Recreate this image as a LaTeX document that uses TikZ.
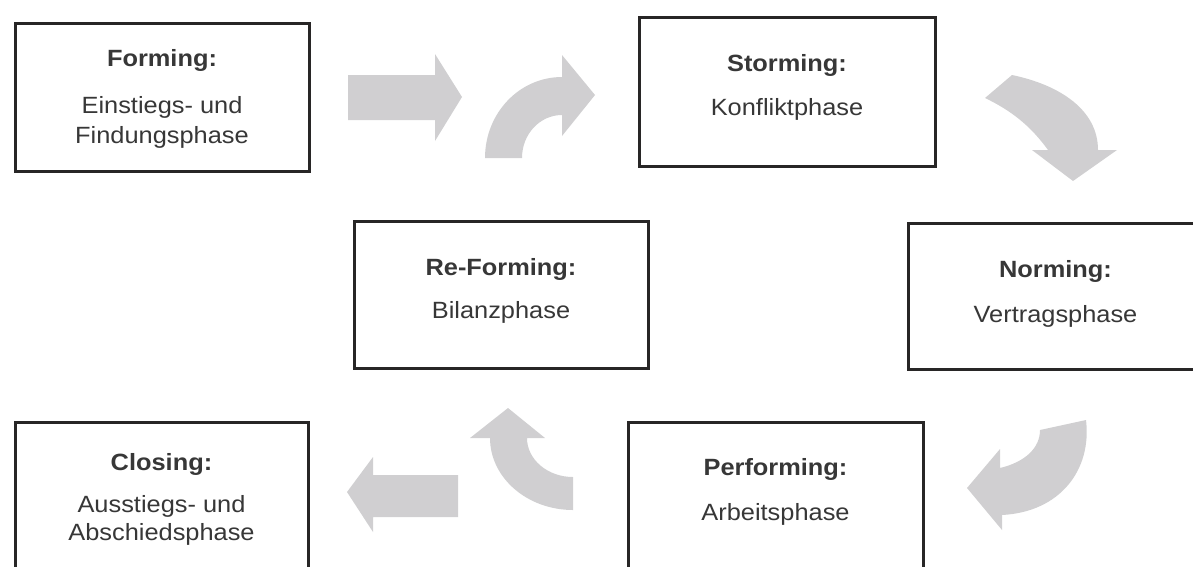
\documentclass[tikz,border=0pt]{standalone}
\usepackage{fontspec}
\setmainfont{Liberation Sans}[FakeStretch=1.08]
\definecolor{boxline}{RGB}{40,38,38}
\definecolor{txt}{RGB}{55,55,55}
\definecolor{arrowgray}{RGB}{208,207,209}
\begin{document}
\begin{tikzpicture}[x=1pt,y=-1pt,
  phasebox/.style={draw=boxline, line width=3pt, fill=white, inner sep=0pt},
  ttl/.style={font=\bfseries\fontsize{23.5}{28}\selectfont, text=txt, anchor=base, inner sep=0pt},
  sub/.style={font=\fontsize{23.5}{28}\selectfont, text=txt, anchor=base, inner sep=0pt},
  blockarrow/.style={fill=arrowgray, draw=none}]
\useasboundingbox (0,0) rectangle (1193,566);
\clip (0,0) rectangle (1193,566);

% boxes
\node[phasebox, minimum width=294pt, minimum height=148pt] (forming) at (162,97) {};
\node[phasebox, minimum width=296pt, minimum height=149pt] (storming) at (787,91.5) {};
\node[phasebox, minimum width=294pt, minimum height=147pt] (reforming) at (501,294.5) {};
\node[phasebox, minimum width=295pt, minimum height=146pt] (norming) at (1055.5,296) {};
\node[phasebox, minimum width=295pt, minimum height=148pt] (performing) at (775.5,496) {};
\node[phasebox, minimum width=293pt, minimum height=148pt] (closing) at (161.5,496) {};

% texts
\node[ttl] (formingT) at (162,66) {Forming:};
\node[sub] (formingA) at (162,113) {Einstiegs- und};
\node[sub] (formingB) at (162,143) {Findungsphase};

\node[ttl] (stormingT) at (787,71) {Storming:};
\node[sub] (stormingA) at (787,115) {Konfliktphase};

\node[ttl] (reformingT) at (501,275) {Re-Forming:};
\node[sub] (reformingA) at (501,318) {Bilanzphase};

\node[ttl] (normingT) at (1055.5,277) {Norming:};
\node[sub] (normingA) at (1055.5,322) {Vertragsphase};

\node[ttl] (performingT) at (775.5,475) {Performing:};
\node[sub] (performingA) at (775.5,520) {Arbeitsphase};

\node[ttl] (closingT) at (161.5,470) {Closing:};
\node[sub] (closingA) at (161.5,512) {Ausstiegs- und};
\node[sub] (closingB) at (161.5,540) {Abschiedsphase};

% block arrows
% 1: straight right
\fill[blockarrow] (348,75) -- (435,75) -- (435,54) -- (462,97) -- (435,141) -- (435,120) -- (348,120) -- cycle;
% 2: curved up-right
\fill[blockarrow] (485,158) .. controls (485,113) and (519.5,77) .. (562,77)
  -- (562,55) -- (595,95) -- (562,136) -- (562,115)
  .. controls (540,115) and (522,134) .. (522,158) -- cycle;
% 3: curved down-right (storming -> norming)
\fill[blockarrow] (1012,75) .. controls (1060,85) and (1098,110) .. (1098,150)
  -- (1117,150) -- (1073,181) -- (1032,150) -- (1048,150)
  .. controls (1030,125) and (1010,110) .. (985,98) -- cycle;
% 4: curved down-left (norming -> performing)
\fill[blockarrow] (1040,430) -- (1086,420) .. controls (1092,470) and (1060,512) .. (1002,515)
  -- (1002,530) -- (967,488) -- (1000,449) -- (1000,468)
  .. controls (1025,462) and (1040,448) .. (1040,430) -- cycle;
% 5: curved up (performing -> re-forming)
\fill[blockarrow] (490,438) .. controls (490,477.7) and (527.2,510) .. (573,510)
  -- (573,477) .. controls (547.6,477) and (527,459.5) .. (527,438)
  -- (545,438) -- (508,408) -- (470,438) -- cycle;
% 6: straight left
\fill[blockarrow] (458,475) -- (373,475) -- (373,457) -- (347,492) -- (373,532) -- (373,517) -- (458,517) -- cycle;
\end{tikzpicture}
\end{document}
